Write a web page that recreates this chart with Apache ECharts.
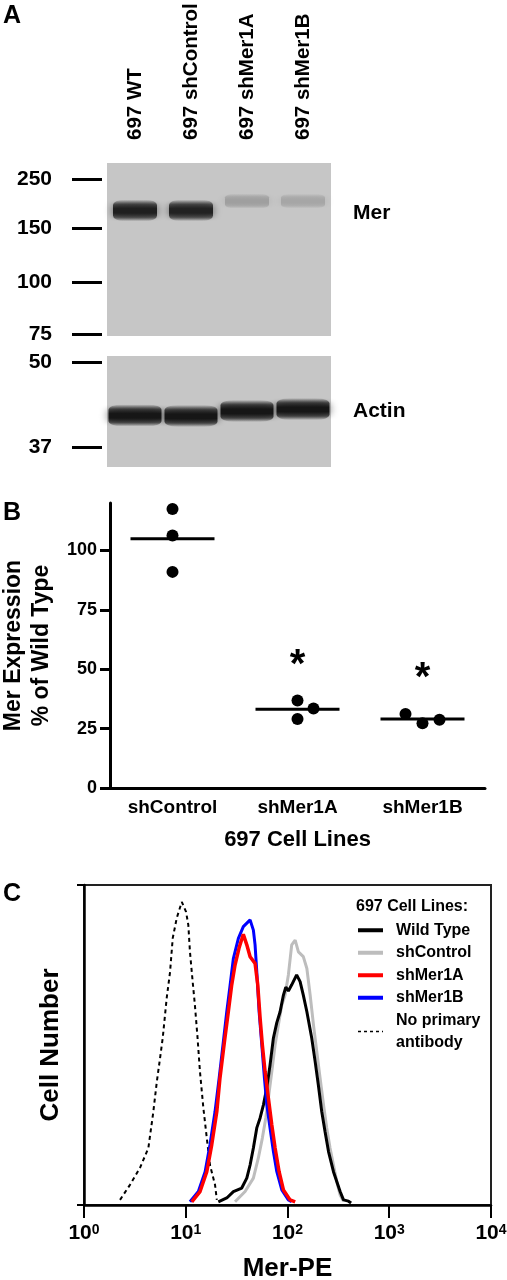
<!DOCTYPE html>
<html><head><meta charset="utf-8">
<script src="https://cdn.jsdelivr.net/npm/echarts@6/dist/echarts.min.js"></script>
<style>html,body{margin:0;padding:0;background:#fff}#c{width:507px;height:1280px}</style>
</head><body><div id="c"></div>
<script>
// ---------- Panel A: western blot ----------
const lanes = ['697 WT', '697 shControl', '697 shMer1A', '697 shMer1B'];
const merLadderKDa = ['250', '150', '100', '75'];
const merLadderRf = [0.092, 0.376, 0.688, 0.988];
const actinLadderKDa = ['50', '37'];
const actinLadderRf = [0.054, 0.82];
const merBandRf = [0.274, 0.274, 0.22, 0.22];
const merBandIntensity = [0.95, 0.93, 0.22, 0.18];
const actinBandRf = [0.535, 0.54, 0.495, 0.478];
const actinBandIntensity = [1, 1, 1, 1];

// ---------- Panel B: Mer expression, % of wild type ----------
const groups = ['shControl', 'shMer1A', 'shMer1B'];
const shControlVals = [117.5, 106.3, 91.0];
const shMer1AVals = [36.8, 33.5, 29.1];
const shMer1BVals = [31.2, 27.3, 28.7];
const significant = [false, true, true];
const bTicks = [0, 25, 50, 75, 100];

// ---------- Panel C: flow cytometry histograms [Mer-PE, cell number] ----------
const wildType = [[20.9,1.0],[25.3,2.2],[29.4,4.2],[35.5,5.3],[39.8,8.4],[42.9,12.5],[46.2,17.8],[49.9,24.1],[53.8,27.2],[58.0,31.3],[62.6,36.6],[67.4,43.8],[72.7,52.2],[78.5,57],[84.6,60.4],[91.2,65.6],[96.2,68.1],[102,66.9],[110,68.8],[123,71.9],[133,69.8],[143,65.6],[155,60.4],[173,52.2],[187,44.8],[201,37.5],[217,29.2],[234,22.9],[253,16.7],[283,10.4],[329,4.2],[355,1.6],[397,1.2],[422,0.6]];
const shControl = [[30.5,1.0],[38.3,4.2],[46.2,8.4],[51.7,14.7],[56.6,20.9],[61.2,27.2],[64.9,33.4],[70.1,41.7],[75.5,50],[81.4,56.3],[87.9,62.5],[94.7,65.6],[102,71.9],[110,81.3],[119,82.8],[128,79.1],[143,77.6],[155,73.9],[167,65.6],[180,56.3],[194,47.9],[209,39.7],[226,31.3],[243,24.1],[262,17.8],[283,12.5],[305,7.3],[329,3.1],[355,1.2]];
const shMer1A = [[11.46,1.0],[13.82,4.2],[16.1,10.4],[18.0,18.8],[20.2,29.2],[21.7,39.7],[24.0,51.0],[26.2,60.4],[28.3,68.8],[30.5,75],[33.4,80.3],[36.8,84.6],[39.8,81.3],[42.9,77.6],[48.0,75.5],[51.0,68.8],[53.8,58.4],[56.6,50],[60.2,41.7],[64.9,33.4],[70.1,25],[75.5,17.8],[82.7,10.4],[91.2,4.7],[106,1.6],[119,1.0]];
const shMer1B = [[11.0,1.0],[13.3,4.2],[15.5,10.4],[17.3,18.8],[19.4,29.2],[21.3,39.7],[23.4,51.0],[25.3,60.4],[27.3,68.8],[29.4,77.1],[32.9,83.3],[36.8,87.0],[42.9,89.1],[46.2,85.9],[48.0,81.3],[49.9,72.9],[52.6,60.4],[55.9,50],[59.3,39.7],[62.6,31.3],[67.4,24.0],[72.7,16.7],[78.5,10.4],[87.9,4.7],[102,1.6],[110,1.0]];
const noPrimary = [[2.26,1.6],[2.83,6.3],[3.55,11.6],[4.29,17.8],[4.80,29.1],[5.19,38.4],[5.59,45.9],[5.94,52.2],[6.50,64.7],[7.01,72.8],[7.45,83.4],[8.16,89.7],[9.14,94.7],[10.07,91.6],[10.6,87.5],[11.0,79.1],[11.7,69.7],[12.3,62.5],[13.0,53.1],[13.8,41.6],[14.9,30.3],[16.1,20.9],[17.3,12.5],[19.4,6.3],[20.2,1.6]];

// ---------- build ----------
const FONT = '"Liberation Sans", Arial, sans-serif';
const chart = echarts.init(document.getElementById('c'), null, {renderer: 'canvas'});

function bandGray(intensity) {
  const bg = 198, dark = 22;
  return Math.round(bg - intensity * (bg - dark));
}
function bandFill(intensity) {
  const v = bandGray(intensity);
  const c = a => 'rgba(' + v + ',' + v + ',' + v + ',' + a + ')';
  return new echarts.graphic.LinearGradient(0, 0, 0, 1, [
    {offset: 0, color: c(0)}, {offset: 0.22, color: c(0.7)}, {offset: 0.42, color: c(1)},
    {offset: 0.62, color: c(1)}, {offset: 0.82, color: c(0.65)}, {offset: 1, color: c(0)}
  ]);
}
function bandData(rf, inten, w, hBase, hGain) {
  return rf.map((r, i) => {
    const g = bandGray(inten[i]);
    return {
      value: [i, r],
      symbolSize: [w, hBase + hGain * inten[i]],
      itemStyle: {color: bandFill(inten[i]), opacity: 1,
        shadowColor: 'rgba(' + g + ',' + g + ',' + g + ',0.55)', shadowBlur: 8}
    };
  });
}
function ladderAxis(gridIndex, rfs, labels) {
  return {
    gridIndex, type: 'value', min: 0, max: 1, inverse: true, offset: 5,
    axisLine: {show: false}, splitLine: {show: false},
    axisTick: {show: true, customValues: rfs, length: 30, lineStyle: {color: '#000', width: 3}},
    axisLabel: {show: true, customValues: rfs, margin: 50, fontSize: 21, fontWeight: 'bold', color: '#000', fontFamily: FONT,
      formatter: v => { let best = 0; rfs.forEach((r, i) => { if (Math.abs(r - v) < Math.abs(rfs[best] - v)) best = i; }); return labels[best]; }}
  };
}

const groupVals = [shControlVals, shMer1AVals, shMer1BVals];
const jitterPx = [[0, 0, 0], [0, 16, 0], [-17, 0, 17]];
const pointData = [];
groupVals.forEach((vals, g) => vals.forEach((v, k) => pointData.push({value: [g, v], symbolOffset: [jitterPx[g][k], 0]})));
const meanData = groupVals.map((vals, g) => [g, vals.reduce((a, b) => a + b, 0) / vals.length]);
const starData = groupVals.map((vals, g) => significant[g] ? [g, Math.max(...vals) + 18] : null).filter(d => d);

const lineSeries = (name, data, color, width, type, z) => ({
  name, type: 'line', xAxisIndex: 3, yAxisIndex: 3, data, symbol: 'none', showSymbol: false,
  lineStyle: {color, width, type: type || 'solid'}, itemStyle: {color}, z: z || 2, silent: true
});

const option = {
  animation: false,
  backgroundColor: '#fff',
  textStyle: {fontFamily: FONT},
  grid: [
    {left: 107, top: 163, width: 224, height: 173, show: true, backgroundColor: '#c6c6c6', borderWidth: 0, outerBoundsMode: 'none', containLabel: false},
    {left: 107, top: 356, width: 224, height: 111, show: true, backgroundColor: '#c6c6c6', borderWidth: 0, outerBoundsMode: 'none', containLabel: false},
    {left: 110, top: 503, width: 375, height: 285, outerBoundsMode: 'none', containLabel: false},
    {left: 84, top: 885, width: 407, height: 320, show: true, borderColor: '#222', borderWidth: 2, outerBoundsMode: 'none', containLabel: false}
  ],
  xAxis: [
    {gridIndex: 0, type: 'category', data: lanes, position: 'top', axisLine: {show: false}, axisTick: {show: false},
     axisLabel: {rotate: 90, margin: 23, fontSize: 20.5, fontWeight: 'bold', color: '#000', interval: 0}},
    {gridIndex: 1, type: 'category', data: lanes, show: false},
    {gridIndex: 2, type: 'category', data: groups,
     axisLine: {lineStyle: {color: '#000', width: 3}},
     axisTick: {alignWithLabel: true, length: 9, lineStyle: {color: '#000', width: 3}},
     axisLabel: {margin: 10, fontSize: 19, fontWeight: 'bold', color: '#000'},
     name: '697 Cell Lines', nameLocation: 'middle', nameGap: 41,
     nameTextStyle: {fontSize: 22, fontWeight: 'bold', color: '#000'}},
    {gridIndex: 3, type: 'log', logBase: 10, min: 1, max: 10000,
     axisLine: {lineStyle: {color: '#000', width: 2.5}},
     axisTick: {length: 13, lineStyle: {color: '#000', width: 2}},
     minorTick: {show: false}, splitLine: {show: false},
     axisLabel: {margin: 18, color: '#000',
       formatter: v => '{b|10}{s|' + Math.round(Math.log10(v)) + '}',
       rich: {b: {fontSize: 21, fontWeight: 'bold', color: '#000', fontFamily: FONT},
              s: {fontSize: 14, fontWeight: 'bold', color: '#000', fontFamily: FONT, verticalAlign: 'top'}}},
     name: 'Mer-PE', nameLocation: 'middle', nameGap: 51,
     nameTextStyle: {fontSize: 26, fontWeight: 'bold', color: '#000'}}
  ],
  yAxis: [
    ladderAxis(0, merLadderRf, merLadderKDa),
    ladderAxis(1, actinLadderRf, actinLadderKDa),
    {gridIndex: 2, type: 'value', min: 0, max: 120, splitLine: {show: false},
     axisLine: {show: true, lineStyle: {color: '#000', width: 3}},
     axisTick: {show: true, customValues: bTicks, length: 10, lineStyle: {color: '#000', width: 3}},
     axisLabel: {customValues: bTicks, margin: 13, fontSize: 18, fontWeight: 'bold', color: '#000'},
     name: 'Mer Expression\n% of Wild Type', nameLocation: 'middle', nameGap: 52, nameRotate: 90,
     nameTextStyle: {fontSize: 23, fontWeight: 'bold', color: '#000', lineHeight: 28}},
    {gridIndex: 3, type: 'value', min: 0, max: 100, interval: 100, splitLine: {show: false},
     axisLine: {show: true, lineStyle: {color: '#000', width: 2.5}},
     axisTick: {show: true, length: 7, lineStyle: {color: '#000', width: 2}},
     axisLabel: {show: false},
     name: 'Cell Number', nameLocation: 'middle', nameGap: 20, nameRotate: 90,
     nameTextStyle: {fontSize: 26, fontWeight: 'bold', color: '#000'}}
  ],
  legend: {
    left: 356, top: 919, orient: 'vertical', itemWidth: 25, itemHeight: 12, itemGap: 0, padding: 0,
    selectedMode: false,
    textStyle: {fontSize: 16, fontWeight: 'bold', color: '#000', lineHeight: 22.5, padding: [0, 0, 0, 8]},
    itemStyle: {opacity: 0},
    lineStyle: {width: 4},
    data: [
      {name: 'Wild Type'}, {name: 'shControl'}, {name: 'shMer1A'}, {name: 'shMer1B'},
      {name: 'No primary\nantibody', lineStyle: {width: 1.5, type: [3, 3]}}
    ]
  },
  graphic: [
    {type: 'text', x: 3, y: 16, style: {text: 'A', font: 'bold 25px ' + FONT, fill: '#000', verticalAlign: 'middle'}},
    {type: 'text', x: 3, y: 513, style: {text: 'B', font: 'bold 25px ' + FONT, fill: '#000', verticalAlign: 'middle'}},
    {type: 'text', x: 3, y: 894, style: {text: 'C', font: 'bold 25px ' + FONT, fill: '#000', verticalAlign: 'middle'}},
    {type: 'text', x: 353, y: 213, style: {text: 'Mer', font: 'bold 21px ' + FONT, fill: '#000', verticalAlign: 'middle'}},
    {type: 'text', x: 353, y: 411, style: {text: 'Actin', font: 'bold 21px ' + FONT, fill: '#000', verticalAlign: 'middle'}},
    {type: 'text', x: 356, y: 907, style: {text: '697 Cell Lines:', font: 'bold 16px ' + FONT, fill: '#000', verticalAlign: 'middle'}}
  ],
  series: [
    {type: 'scatter', xAxisIndex: 0, yAxisIndex: 0, symbol: 'roundRect', data: bandData(merBandRf, merBandIntensity, 44, 13, 9), silent: true},
    {type: 'scatter', xAxisIndex: 1, yAxisIndex: 1, symbol: 'roundRect', data: bandData(actinBandRf, actinBandIntensity, 53, 13, 9), silent: true},
    {type: 'scatter', xAxisIndex: 2, yAxisIndex: 2, symbol: 'rect', symbolSize: [84, 3], itemStyle: {color: '#000', opacity: 1}, data: meanData, z: 2, silent: true},
    {type: 'scatter', xAxisIndex: 2, yAxisIndex: 2, symbol: 'circle', symbolSize: 12, itemStyle: {color: '#000', opacity: 1}, data: pointData, z: 3, silent: true},
    {type: 'scatter', xAxisIndex: 2, yAxisIndex: 2, symbolSize: 1, itemStyle: {color: 'rgba(0,0,0,0)', opacity: 1}, data: starData, silent: true,
     label: {show: true, position: 'inside', formatter: '*', fontSize: 40, fontWeight: 'bold', color: '#000', opacity: 1, offset: [0, 8]}},
    lineSeries('No primary\nantibody', noPrimary, '#000', 2, [4, 3.5], 2),
    lineSeries('shControl', shControl, '#bdbdbd', 3, null, 3),
    lineSeries('Wild Type', wildType, '#000', 3, null, 4),
    lineSeries('shMer1B', shMer1B, '#0000ff', 3, null, 5),
    lineSeries('shMer1A', shMer1A, '#ff0000', 3.5, null, 6)
  ]
};
chart.setOption(option);
</script></body></html>
